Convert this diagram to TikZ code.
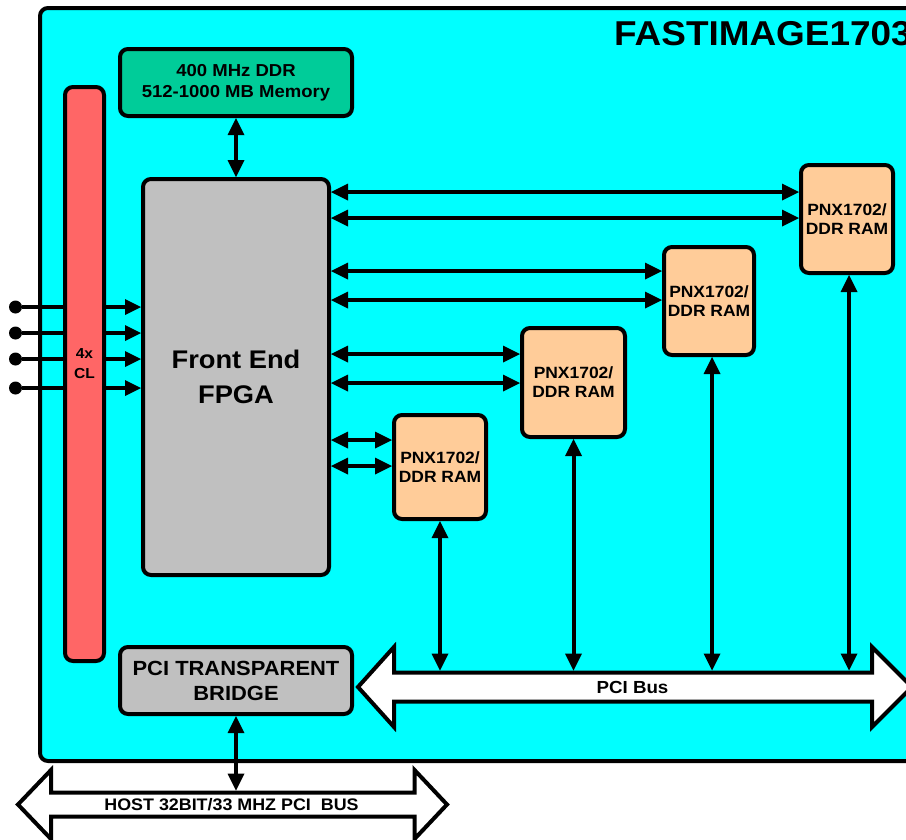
\documentclass[tikz,border=0pt]{standalone}
\usepackage{fontspec}
\setmainfont[FakeStretch=1.07]{Liberation Sans}
\usetikzlibrary{arrows.meta}
\definecolor{boardcyan}{HTML}{00FFFF}
\definecolor{ddrgreen}{HTML}{00CC99}
\definecolor{fpgagray}{HTML}{C0C0C0}
\definecolor{clred}{HTML}{FF6666}
\definecolor{pnxorange}{HTML}{FFCC99}
\tikzset{
  box/.style={draw=black, line width=4pt, rounded corners=8pt, align=center, inner sep=0pt},
  pnxbox/.style={box, fill=pnxorange, minimum width=#1, font=\fontsize{16.3}{19}\selectfont\bfseries},
  conn/.style={line width=4pt, {Triangle[length=17pt,width=17pt,line width=0pt]}-{Triangle[length=17pt,width=17pt,line width=0pt]}},
  inleft/.style={line width=3.5pt, {Circle[length=13pt,line width=0pt]}-},
  inright/.style={line width=3.5pt, -{Triangle[length=16pt,width=16pt,line width=0pt]}},
  busarrow/.style={draw=black, fill=white, line width=4pt, line join=miter},
  buslabel/.style={inner sep=0pt, font=\fontsize{17.5}{20}\selectfont\bfseries},
}
\begin{document}
\begin{tikzpicture}[x=1pt,y=-1pt]
\useasboundingbox (0,0) rectangle (906,839);
\clip (0,0) rectangle (906,839);
\fill[white] (0,0) rectangle (906,839);

% board
\node[box, fill=boardcyan, minimum width=890pt, minimum height=753pt] (board) at (485,384.5) {};
\node[anchor=base west, inner sep=0pt, font=\fontsize{34.5}{38}\selectfont\bfseries] (title) at (614,45) {FASTIMAGE1703};

% blocks
\node[box, fill=ddrgreen, minimum width=232pt, minimum height=67pt, font=\fontsize{17.3}{21}\selectfont\bfseries] (ddr) at (236,82.5) {400 MHz DDR\\512-1000 MB Memory};
\node[box, fill=fpgagray, minimum width=186pt, minimum height=396pt, font=\fontsize{25.5}{35}\selectfont\bfseries] (fpga) at (236,377) {Front End\\FPGA};
\node[box, fill=clred, minimum width=39pt, minimum height=574pt] (cl) at (84.5,374) {};
\node[align=center, inner sep=0pt, font=\fontsize{14.5}{20}\selectfont\bfseries] (cltext) at (84.5,364) {4x\\CL};
\node[pnxbox=92pt, minimum height=104pt] (pnx1) at (440,467) {PNX1702/\\DDR RAM};
\node[pnxbox=103pt, minimum height=109pt] (pnx2) at (573.5,382.5) {PNX1702/\\DDR RAM};
\node[pnxbox=90pt, minimum height=108pt] (pnx3) at (709,301) {PNX1702/\\DDR RAM};
\node[pnxbox=92pt, minimum height=108pt] (pnx4) at (847,219) {PNX1702/\\DDR RAM};
\node[box, fill=fpgagray, minimum width=232pt, minimum height=67pt, font=\fontsize{20.5}{25}\selectfont\bfseries] (bridge) at (236,680.5) {PCI TRANSPARENT\\BRIDGE};

% buses
\draw[busarrow] (358,687) -- (394,647) -- (394,672.5) -- (872,672.5) -- (872,647) -- (912,687)
  -- (872,727) -- (872,701.5) -- (394,701.5) -- (394,727) -- cycle;
\node[buslabel] (pcilabel) at (632.5,687) {PCI Bus};
\coordinate (pcitop) at (0,670.5);

\draw[busarrow] (18,804.5) -- (51,770) -- (51,792.5) -- (414.5,792.5) -- (414.5,770) -- (447,804.5)
  -- (414.5,839) -- (414.5,816.5) -- (51,816.5) -- (51,839) -- cycle;
\node[buslabel, font=\fontsize{16.7}{20}\selectfont\bfseries] (hostlabel) at (231.5,804.5) {HOST 32BIT/33 MHZ PCI\ \ BUS};
\coordinate (hosttop) at (0,790.5);

% connectors
\draw[conn] (ddr.south) -- (fpga.north);
\draw[conn] (bridge.south) -- (bridge.south |- hosttop);

\draw[conn] (fpga.east |- 0,192) -- (pnx4.west |- 0,192);
\draw[conn] (fpga.east |- 0,218) -- (pnx4.west |- 0,218);
\draw[conn] (fpga.east |- 0,271) -- (pnx3.west |- 0,271);
\draw[conn] (fpga.east |- 0,300) -- (pnx3.west |- 0,300);
\draw[conn] (fpga.east |- 0,354) -- (pnx2.west |- 0,354);
\draw[conn] (fpga.east |- 0,383) -- (pnx2.west |- 0,383);
\draw[conn] (fpga.east |- 0,440) -- (pnx1.west |- 0,440);
\draw[conn] (fpga.east |- 0,466) -- (pnx1.west |- 0,466);

\draw[conn] (pnx1.south) -- (pnx1.south |- pcitop);
\draw[conn] (pnx2.south) -- (pnx2.south |- pcitop);
\draw[conn] ([xshift=3pt]pnx3.south) -- ([xshift=3pt]pnx3.south |- pcitop);
\draw[conn] ([xshift=2pt]pnx4.south) -- ([xshift=2pt]pnx4.south |- pcitop);

% camera link inputs
\coordinate (in1) at (9,307);
\coordinate (in2) at (9,333);
\coordinate (in3) at (9,359);
\coordinate (in4) at (9,388);
\foreach \i in {1,2,3,4} {
  \draw[inleft] (in\i) -- (cl.west |- in\i);
  \draw[inright] (cl.east |- in\i) -- (fpga.west |- in\i);
}
\end{tikzpicture}
\end{document}
